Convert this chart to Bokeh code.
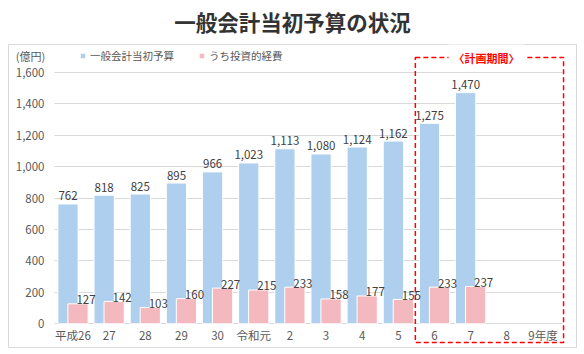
from bokeh.plotting import figure
from bokeh.models import (FixedTicker, Label, Legend, LegendItem, ColumnDataSource,
                          NumeralTickFormatter, Range1d)
from bokeh.transform import dodge
from bokeh.core.properties import value
from bokeh.embed import file_html
from bokeh.resources import INLINE

# ---- data ----
title_text = "一般会計当初予算の状況"
unit_label = "(億円)"
years = ["平成26", "27", "28", "29", "30", "令和元", "2", "3", "4", "5", "6", "7", "8", "9年度"]
general_budget = [762, 818, 825, 895, 966, 1023, 1113, 1080, 1124, 1162, 1275, 1470, None, None]
investment = [127, 142, 103, 160, 227, 215, 233, 158, 177, 155, 233, 237, None, None]
series_names = ["一般会計当初予算", "うち投資的経費"]
plan_label = "〈計画期間〉"
plan_start, plan_end = "6", "9年度"
y_ticks = [0, 200, 400, 600, 800, 1000, 1200, 1400, 1600]

# ---- layout (pixels) ----
W, H = 584, 354
CX0, STEP = 72.5, 36.15
Y0PX, PPU = 323.3, 0.15725
FONT = "Noto Sans CJK JP"
BLUE, PINK = "#AECFED", "#F4B9BE"
OFF, BW = 0.138, 0.56


def px2x(px):
    return (px - CX0) / STEP


def py2y(py):
    return (Y0PX - py) / PPU


p = figure(width=W, height=H, output_backend="svg", toolbar_location=None,
           x_range=Range1d(px2x(0), px2x(W)), y_range=Range1d(py2y(H), py2y(0)),
           min_border=0, min_border_left=0, min_border_right=0,
           min_border_top=0, min_border_bottom=0)
p.outline_line_color = None
p.background_fill_color = "white"
p.border_fill_color = "white"

# chart border
p.quad(left=[px2x(8)], right=[px2x(576)], top=[py2y(44)], bottom=[py2y(347)],
       fill_color=None, line_color="#D9D9D9", line_width=1)

idx = [i for i, v in enumerate(general_budget) if v is not None]
src_b = ColumnDataSource(dict(x=idx, v=[general_budget[i] for i in idx],
                              lbl=["{:,}".format(general_budget[i]) for i in idx]))
idx2 = [i for i, v in enumerate(investment) if v is not None]
src_p = ColumnDataSource(dict(x=idx2, v=[investment[i] for i in idx2],
                              lbl=["{:,}".format(investment[i]) for i in idx2]))

rb = p.vbar(x=dodge("x", -OFF, range=p.x_range), top="v", bottom=0, width=BW,
            source=src_b, fill_color=BLUE, line_color="white", line_width=1)
rp = p.vbar(x=dodge("x", OFF, range=p.x_range), top="v", bottom=0, width=BW,
            source=src_p, fill_color=PINK, line_color="white", line_width=1)

p.text(x=dodge("x", -OFF, range=p.x_range), y="v", text="lbl", source=src_b,
       text_align="center", text_baseline="alphabetic", y_offset=-8,
       text_font=value(FONT), text_font_size="11.5px", text_color="#404040")
p.text(x=dodge("x", OFF, range=p.x_range), y="v", text="lbl", source=src_p,
       text_align="center", text_baseline="alphabetic", y_offset=-4, x_offset=8,
       text_font=value(FONT), text_font_size="11.5px", text_color="#404040")

# plan period dashed box
i0, i1 = years.index(plan_start), years.index(plan_end)
p.quad(left=[i0 - 0.53], right=[i1 + 0.57], top=[py2y(57)], bottom=[py2y(342)],
       fill_color=None, line_color="#FF0000", line_dash="5 3", line_width=1.5)

# axes
for ax in (p.xaxis, p.yaxis):
    ax.axis_line_color = None
    ax.major_tick_line_color = None
    ax.minor_tick_line_color = None
    ax.major_tick_out = 0
    ax.major_tick_in = 0
    ax.minor_tick_out = 0
    ax.minor_tick_in = 0
    ax.major_label_text_color = "#595959"
    ax.major_label_text_font = FONT
    ax.major_label_text_font_size = "11.5px"

p.yaxis.ticker = FixedTicker(ticks=y_ticks)
p.yaxis.formatter = NumeralTickFormatter(format="0,0")
p.yaxis.fixed_location = px2x(54)
p.yaxis.major_label_standoff = 10

p.xaxis.ticker = FixedTicker(ticks=list(range(len(years))))
p.xaxis.major_label_overrides = {i: y for i, y in enumerate(years)}
p.xaxis.fixed_location = 0
p.xaxis.major_label_standoff = 3

p.xgrid.visible = False
p.ygrid.grid_line_color = "#D9D9D9"
p.ygrid.grid_line_width = 1
p.ygrid.cross_bounds = (px2x(54), px2x(562))

# texts
p.add_layout(Label(x=px2x(292), y=py2y(21), text=title_text, text_align="center",
                   text_baseline="middle", text_font=FONT, text_font_size="21.5px",
                   text_font_style="bold", text_color="#333333"))
p.add_layout(Label(x=px2x(30), y=py2y(55), text=unit_label, text_align="center",
                   text_baseline="middle", text_font=FONT, text_font_size="11px",
                   text_color="#595959"))
p.add_layout(Label(x=px2x(486), y=py2y(57), text=plan_label, text_align="center",
                   text_baseline="middle", text_font=FONT, text_font_size="11px",
                   text_font_style="bold", text_color="#FF0000",
                   background_fill_color="white", padding=5))

legend = Legend(items=[LegendItem(label=series_names[0], renderers=[rb]),
                       LegendItem(label=series_names[1], renderers=[rp])],
                orientation="horizontal", location=(79, H - 63),
                glyph_width=7, glyph_height=7, label_standoff=4, spacing=24,
                padding=0, margin=0, border_line_color=None, background_fill_alpha=0,
                label_text_font=FONT, label_text_font_size="10.5px",
                label_text_color="#595959", label_height=14)
p.add_layout(legend)

open("out.html", "w").write(file_html(p, INLINE))
